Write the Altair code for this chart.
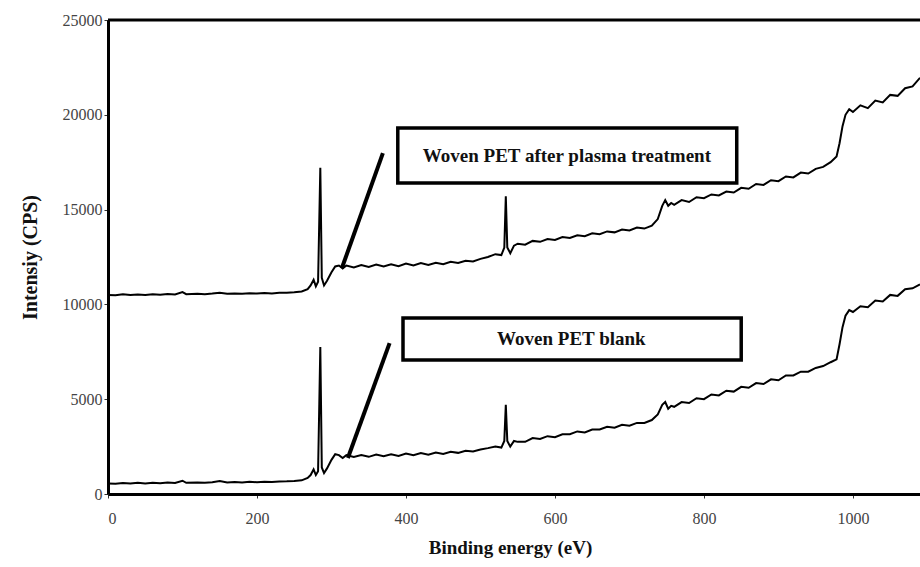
import altair as alt
import pandas as pd

# XPS survey spectra: binding energy (eV) vs intensity (CPS)
treated_ev = [0, 10, 20, 30, 40, 50, 60, 70, 80, 90, 100, 105, 120, 130, 140, 150, 160, 170, 180, 190,
              200, 210, 220, 230, 240, 250, 260, 268, 272, 276, 279, 282, 285, 287, 290, 294, 300, 305,
              310, 315, 320, 330, 340, 350, 360, 370, 380, 390, 400, 410, 420, 430, 440, 450, 460, 470,
              480, 490, 500, 510, 520, 528, 532, 534, 536, 540, 545, 550, 560, 570, 580, 590, 600, 610,
              620, 630, 640, 650, 660, 670, 680, 690, 700, 710, 720, 730, 738, 744, 748, 752, 756, 760,
              770, 780, 790, 800, 810, 820, 830, 840, 850, 860, 870, 880, 890, 900, 910, 920, 930, 940,
              950, 960, 970, 978, 982, 986, 990, 995, 1000, 1010, 1020, 1030, 1040, 1050, 1060, 1070,
              1080, 1090]
treated_cps = [10500, 10480, 10530, 10490, 10520, 10500, 10540, 10510, 10550, 10520, 10650, 10540, 10560,
               10540, 10570, 10620, 10560, 10580, 10560, 10590, 10570, 10600, 10580, 10610, 10620, 10640,
               10680, 10800, 11000, 11300, 10950, 11200, 17200, 11400, 11000, 11250, 11700, 12000, 12050,
               11900, 12050, 11950, 12080, 11980, 12100, 12000, 12120, 12020, 12150, 12050, 12180, 12080,
               12200, 12120, 12250, 12180, 12300, 12260, 12400, 12500, 12650, 12600, 13000, 15700, 13000,
               12700, 13100, 13200, 13150, 13350, 13300, 13450, 13400, 13550, 13500, 13650, 13600, 13750,
               13700, 13850, 13800, 13950, 13900, 14050, 14000, 14150, 14500, 15200, 15500, 15200, 15350,
               15250, 15500, 15400, 15650, 15600, 15800, 15750, 15950, 15900, 16150, 16100, 16350, 16300,
               16550, 16500, 16750, 16700, 16950, 16900, 17150, 17250, 17500, 17800, 18500, 19400, 20000,
               20300, 20150, 20500, 20350, 20750, 20650, 21050, 21000, 21400, 21500, 21950]

blank_ev = treated_ev
blank_cps = [560, 540, 580, 550, 590, 560, 590, 570, 600, 580, 700, 590, 610, 590, 620, 680, 610, 630,
             610, 640, 620, 650, 630, 660, 670, 690, 720, 850, 1000, 1300, 1000, 1200, 7750, 1400, 1100,
             1350, 1800, 2100, 2050, 1900, 2050, 1950, 2050, 1960, 2080, 1990, 2100, 2010, 2130, 2040,
             2160, 2070, 2190, 2110, 2230, 2170, 2280, 2240, 2350, 2420, 2500, 2450, 2800, 4700, 2800,
             2500, 2800, 2750, 2750, 2950, 2900, 3050, 3000, 3150, 3150, 3300, 3250, 3400, 3400, 3550,
             3500, 3650, 3600, 3750, 3750, 3900, 4200, 4700, 4850, 4500, 4650, 4600, 4850, 4800, 5050,
             5000, 5250, 5200, 5450, 5400, 5650, 5600, 5850, 5800, 6050, 6000, 6250, 6250, 6450, 6450,
             6650, 6750, 6950, 7100, 7900, 8800, 9400, 9700, 9600, 9900, 9850, 10200, 10150, 10500,
             10450, 10800, 10850, 11050]

# Annotation boxes and their pointer lines (data coordinates)
box_labels = ["Woven PET after plasma treatment", "Woven PET blank"]
box_x1 = [389, 396]
box_x2 = [844, 850]
box_y1 = [16400, 7070]
box_y2 = [19300, 9280]
text_x = [616, 622]
text_y = [17850, 8150]
ptr_x1 = [369, 378]
ptr_y1 = [17980, 7960]
ptr_x2 = [314, 322]
ptr_y2 = [11920, 1900]

X_MAX = 1090
SERIF = "Liberation Serif"

spec = pd.concat([
    pd.DataFrame({"ev": treated_ev, "cps": treated_cps, "sample": "treated"}),
    pd.DataFrame({"ev": blank_ev, "cps": blank_cps, "sample": "blank"}),
])
boxes = pd.DataFrame({"label": box_labels, "x1": box_x1, "x2": box_x2, "y1": box_y1, "y2": box_y2,
                      "tx": text_x, "ty": text_y, "px1": ptr_x1, "py1": ptr_y1, "px2": ptr_x2, "py2": ptr_y2})

xscale = alt.Scale(domain=[0, X_MAX], nice=False, zero=False)
yscale = alt.Scale(domain=[0, 25000], nice=False)

xaxis = alt.Axis(title="Binding energy (eV)", values=[0, 200, 400, 600, 800, 1000], format="d",
                 grid=False, domainColor="black", domainWidth=3, tickColor="#333", tickSize=4, tickWidth=1,
                 labelFont=SERIF, labelFontSize=16, labelColor="#444", labelPadding=12,
                 titleFont=SERIF, titleFontSize=19, titleFontWeight="bold", titleColor="#111",
                 titlePadding=12, titleX=402)
yaxis = alt.Axis(title="Intensiy (CPS)", values=[0, 5000, 10000, 15000, 20000, 25000], format="d",
                 grid=False, domainColor="black", domainWidth=3, tickColor="#333", tickSize=4, tickWidth=1,
                 labelFont=SERIF, labelFontSize=16, labelColor="#444", labelPadding=2,
                 titleFont=SERIF, titleFontSize=20, titleFontWeight="bold", titleColor="#111",
                 titlePadding=22)

lines = alt.Chart(spec).mark_line(color="black", strokeWidth=2, clip=True).encode(
    x=alt.X("ev:Q", scale=xscale, axis=xaxis),
    y=alt.Y("cps:Q", scale=yscale, axis=yaxis),
    detail="sample:N",
    order="ev:Q",
)

top_border = alt.Chart(pd.DataFrame({"y": [25000]})).mark_rule(color="black", strokeWidth=3).encode(
    y=alt.Y("y:Q", scale=yscale), x=alt.value(0), x2=alt.value(812)
)

rects = alt.Chart(boxes).mark_rect(fill="white", stroke="black", strokeWidth=3.5).encode(
    x=alt.X("x1:Q", scale=xscale), x2="x2:Q",
    y=alt.Y("y1:Q", scale=yscale), y2="y2:Q",
)

pointers = alt.Chart(boxes).mark_rule(color="black", strokeWidth=4).encode(
    x=alt.X("px1:Q", scale=xscale), x2="px2:Q",
    y=alt.Y("py1:Q", scale=yscale), y2="py2:Q",
)

labels = alt.Chart(boxes).mark_text(font=SERIF, fontSize=19, fontWeight="bold", color="#111").encode(
    x=alt.X("tx:Q", scale=xscale), y=alt.Y("ty:Q", scale=yscale), text="label:N"
)

chart = alt.layer(lines, top_border, rects, pointers, labels).properties(
    width=812, height=474,
    autosize=alt.AutoSizeParams(type="none"),
    padding={"left": 108, "top": 20, "right": 0, "bottom": 73},
).configure_view(stroke=None).configure(background="white")

chart.save("out.html", embed_options={"renderer": "svg", "actions": False})
